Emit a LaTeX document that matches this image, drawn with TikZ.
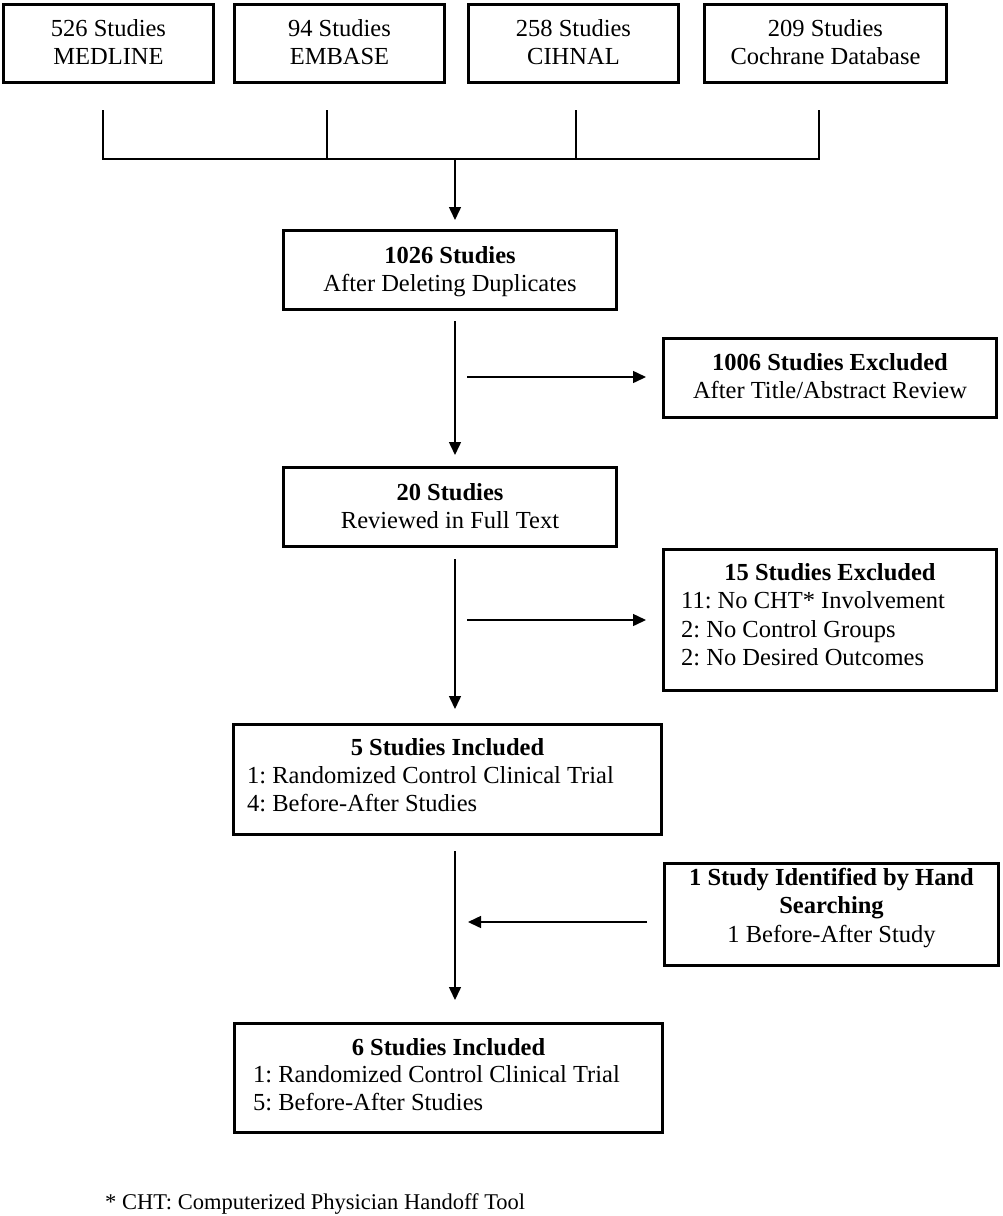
\documentclass[tikz,border=0pt]{standalone}
\usepackage{fontspec}
\setmainfont{Liberation Serif}
\usetikzlibrary{arrows.meta}
\frenchspacing
\begin{document}
\begin{tikzpicture}[x=1pt,y=-1pt,
  box/.style={draw, line width=2.6pt, inner sep=0pt},
  txt/.style={anchor=base, inner sep=0pt, font=\fontsize{24.5}{29}\selectfont},
  txtl/.style={anchor=base west, inner sep=0pt, font=\fontsize{24.5}{29}\selectfont},
  conn/.style={line width=1.5pt},
  arr/.style={conn, -{Triangle[length=13pt,width=12pt]}}]
\useasboundingbox (0,0) rectangle (1003,1216);
\fill[white] (0,0) rectangle (1003,1216);

% boxes
\node[box, minimum width=210.4pt, minimum height=78.4pt] (b1) at (108.5,43.5) {};
\node[box, minimum width=210.4pt, minimum height=78.4pt] (b2) at (339.5,43.5) {};
\node[box, minimum width=210.4pt, minimum height=78.4pt] (b3) at (573.5,43.5) {};
\node[box, minimum width=242.4pt, minimum height=78.4pt] (b4) at (825.5,43.5) {};
\node[box, minimum width=333.4pt, minimum height=79.4pt] (dup) at (450,270) {};
\node[box, minimum width=333.4pt, minimum height=79.4pt] (ex1) at (830,378) {};
\node[box, minimum width=333.4pt, minimum height=79.4pt] (full) at (450,507) {};
\node[box, minimum width=333.4pt, minimum height=141.4pt] (ex2) at (830,620) {};
\node[box, minimum width=428.4pt, minimum height=110.4pt] (inc5) at (447.5,779.5) {};
\node[box, minimum width=334.4pt, minimum height=102.4pt] (hand) at (831.5,914.5) {};
\node[box, minimum width=428.4pt, minimum height=109.4pt] (inc6) at (448.5,1078) {};

% texts
\node[txt] (b1a) at (108.5,36) {526 Studies};
\node[txt] (b1b) at (108.5,64) {MEDLINE};
\node[txt] (b2a) at (339.5,36) {94 Studies};
\node[txt] (b2b) at (339.5,64) {EMBASE};
\node[txt] (b3a) at (573.5,36) {258 Studies};
\node[txt] (b3b) at (573.5,64) {CIHNAL};
\node[txt] (b4a) at (825.5,36) {209 Studies};
\node[txt] (b4b) at (825.5,64) {Cochrane Database};

\node[txt] (dupa) at (450,263) {\bfseries 1026 Studies};
\node[txt] (dupb) at (450,291) {After Deleting Duplicates};
\node[txt] (ex1a) at (830,370) {\bfseries 1006 Studies Excluded};
\node[txt] (ex1b) at (830,398) {After Title/Abstract Review};
\node[txt] (fulla) at (450,500) {\bfseries 20 Studies};
\node[txt] (fullb) at (450,528) {Reviewed in Full Text};

\node[txt] (ex2a) at (830,580) {\bfseries 15 Studies Excluded};
\node[txtl] (ex2b) at (681,608) {11: No CHT* Involvement};
\node[txtl] (ex2c) at (681,637) {2: No Control Groups};
\node[txtl] (ex2d) at (681,665) {2: No Desired Outcomes};

\node[txt] (inc5a) at (447.5,755) {\bfseries 5 Studies Included};
\node[txtl] (inc5b) at (247,783) {1: Randomized Control Clinical Trial};
\node[txtl] (inc5c) at (247,811) {4: Before-After Studies};

\node[txt] (handa) at (831.5,885) {\bfseries 1 Study Identified by Hand};
\node[txt] (handb) at (831.5,913) {\bfseries Searching};
\node[txt] (handc) at (831.5,942) {1 Before-After Study};

\node[txt] (inc6a) at (448.5,1055) {\bfseries 6 Studies Included};
\node[txtl] (inc6b) at (253,1082) {1: Randomized Control Clinical Trial};
\node[txtl] (inc6c) at (253,1110) {5: Before-After Studies};

\node[anchor=base west, inner sep=0pt, font=\fontsize{22.5}{27}\selectfont] (foot) at (105,1209) {* CHT: Computerized Physician Handoff Tool};

% connectors: merge of databases
\coordinate (s1) at (103,110);
\coordinate (s2) at (327,110);
\coordinate (s3) at (576,110);
\coordinate (s4) at (819,110);
\coordinate (h1) at (103,159);
\coordinate (h4) at (819,159);
\coordinate (j) at (455,159);
\coordinate (jt) at (455,220);
\draw[conn] (s1) -- (h1) -- (h4) -- (s4);
\draw[conn] (s2) -- (s2 |- h1);
\draw[conn] (s3) -- (s3 |- h1);
\draw[arr] (j) -- (jt);

% vertical arrows
\coordinate (v1s) at (455,321);
\coordinate (v1e) at (455,455);
\coordinate (v2s) at (455,559);
\coordinate (v2e) at (455,709);
\coordinate (v3s) at (455,851);
\coordinate (v3e) at (455,1000);
\draw[arr] (v1s) -- (v1e);
\draw[arr] (v2s) -- (v2e);
\draw[arr] (v3s) -- (v3e);

% horizontal arrows
\coordinate (e1s) at (467,377);
\coordinate (e2s) at (467,620);
\coordinate (e3e) at (468,922);
\draw[arr, shorten >=16pt] (e1s) -- (e1s -| ex1.west);
\draw[arr, shorten >=16pt] (e2s) -- (e2s -| ex2.west);
\draw[arr, shorten <=16pt] (e3e -| hand.west) -- (e3e);
\end{tikzpicture}
\end{document}
